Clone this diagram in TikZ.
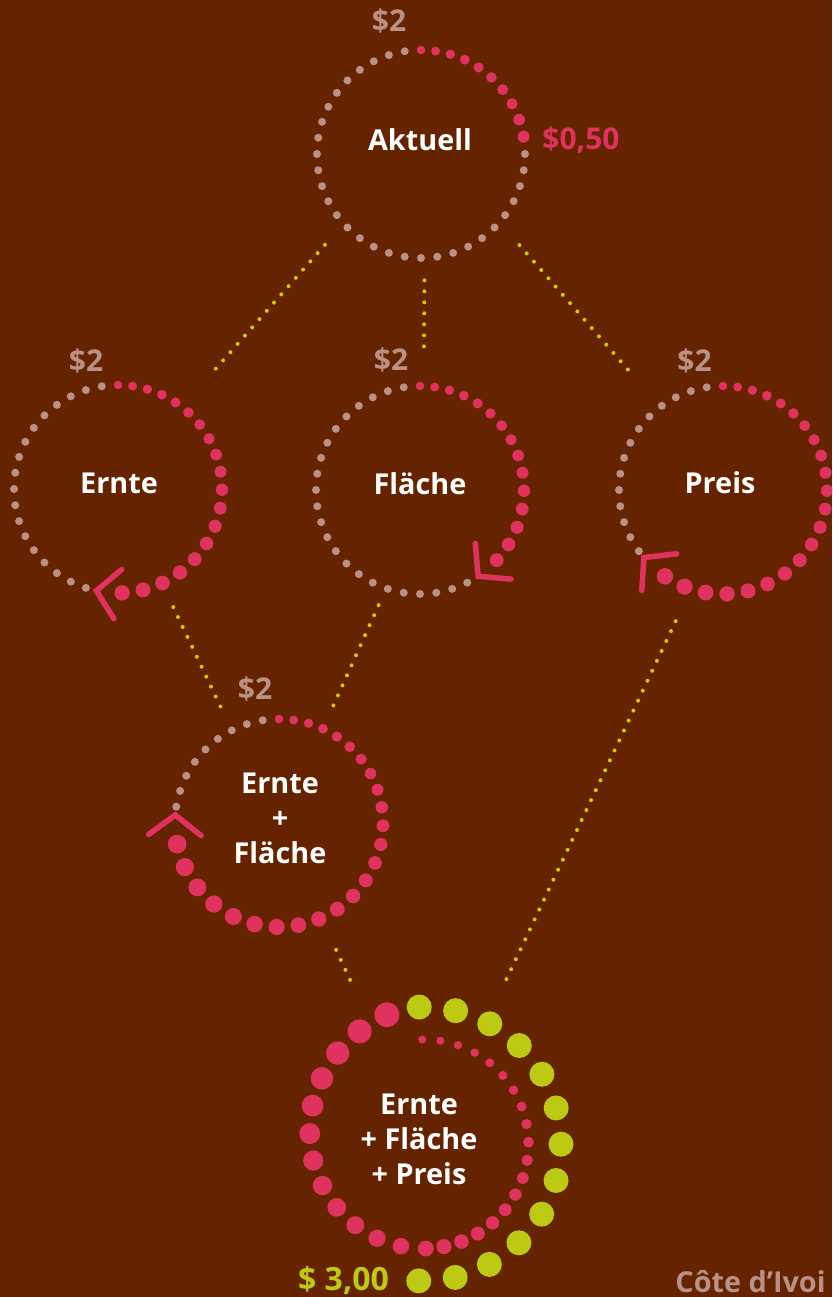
\documentclass[tikz,border=0pt]{standalone}
\usepackage{fontspec}
\setmainfont{Open Sans}
\definecolor{bgbrown}{RGB}{102,35,0}
\definecolor{dotpink}{RGB}{224,50,95}
\definecolor{dotgrey}{RGB}{185,145,134}
\definecolor{dotgreen}{RGB}{188,202,20}
\definecolor{linkyellow}{RGB}{204,204,0}

% #1 ring, #2 last grey index, #3 last pink index, #4 growth of the pink dots
\newcommand{\dotring}[4]{%
  \foreach \k in {0,...,#2}
    \fill[greydot] (#1.center) ++(99+9*\k:104) circle (4);
  \foreach \i in {0,...,#3}{
    \pgfmathsetmacro{\dang}{90-0.548*(14.6*\i+#4*\i*\i)}
    \pgfmathsetmacro{\drad}{4.3+#4*\i}
    \fill[pinkdot] (#1.center) ++(\dang:104) circle (\drad);
  }}
% #1 ring, #2 angle of the tip, #3 and #4 directions of the arms
\newcommand{\chevron}[4]{%
  \path (#1.center) ++(#2:104) coordinate (#1-tip);
  \draw[chev] (#1-tip) ++(#3:33) -- (#1-tip) -- ++(#4:33);}

\begin{document}
\begin{tikzpicture}[
  x=0.5pt, y=0.5pt,
  ring/.style = {circle, minimum size=104pt, inner sep=0pt},
  lbl/.style = {
    font=\bfseries\fontsize{14.4}{17.5}\selectfont,
    text=white, align=center, inner sep=0pt
  },
  price/.style = {
    font=\bfseries\fontsize{15}{18}\selectfont,
    text=dotgrey, anchor=base, inner sep=0pt
  },
  greydot/.style = {fill=dotgrey},
  pinkdot/.style = {fill=dotpink},
  greendot/.style = {fill=dotgreen},
  chev/.style = {draw=dotpink, line width=2.75pt, line cap=round, line join=miter},
  link/.style = {draw=linkyellow, line width=2pt, line cap=round,
    dash pattern=on 0pt off 5.5pt}
]
\useasboundingbox (0,0) rectangle (832,1297);
\clip (0,0) rectangle (832,1297);
\fill[bgbrown] (0,0) rectangle (832,1297);

%--- RINGE ---
\node[ring] (akt) at (421,1143) {};
\node[ring] (ern) at (118,808) {};
\node[ring] (fla) at (420,807) {};
\node[ring] (pre) at (723,807) {};
\node[ring] (ef)  at (279,474) {};
\node[ring, minimum size=137pt] (all) at (424,153) {};

%--- VERBINDUNGEN ---
\draw[link, shorten <=14pt, shorten >=24.5pt] (akt.-138) -- (ern.52);
\draw[link, shorten <=11pt, shorten >=19pt]   (akt.-88)  -- (fla.88);
\draw[link, shorten <=15pt, shorten >=24pt]   (akt.-41)  -- (pre.127);
\draw[link, shorten <=13pt, shorten >=13pt]   (ern.-65)  -- (ef.117);
\draw[link, shorten <=9pt,  shorten >=12pt]   (fla.-109) -- (ef.65);
\draw[link, shorten <=17.4pt, shorten >=16pt] (ef.-66)   -- (all.114);
\draw[link, shorten <=17.6pt, shorten >=18pt] (pre.-108) -- (all.63);

%--- PUNKTE ---
\dotring{akt}{29}{9}{0.19}
\dotring{ern}{17}{18}{0.19}
\dotring{fla}{22}{14}{0.19}
\dotring{pre}{13}{21}{0.19}
\dotring{ef}{8}{24}{0.21}
\foreach \i in {0,...,30}{
  \pgfmathsetmacro{\dgrow}{max(\i-18,0)/12}
  \pgfmathsetmacro{\dang}{91-10*min(\i,18)-13.75*max(\i-18,0)}
  \pgfmathsetmacro{\dr}{104.5+30*\dgrow*\dgrow}
  \pgfmathsetmacro{\drad}{4+8.5*(\i/30)*sqrt(\i/30)}
  \fill[pinkdot] (all.center) ++(\dang:\dr) circle (\drad);
}
\foreach \j in {0,...,12}
  \fill[greendot] (all.center) ++(92-15.35*\j:137) circle (12.5);

%--- PFEILE ---
\chevron{ern}{-102}{40}{-58}
\chevron{fla}{-56}{95}{-5}
\chevron{pre}{-139.5}{6.5}{-93.7}
\chevron{ef}{175.6}{216}{-38.6}

%--- TEXTE ---
\node[lbl, anchor=base] (akt-l) at (420,1146) {Aktuell};
\node[lbl, anchor=base] (ern-l) at (119,803) {Ernte};
\node[lbl, anchor=base] (fla-l) at (420,802) {Fläche};
\node[lbl, anchor=base] (pre-l) at (720,803) {Preis};
\node[lbl] (ef-l)  at (280,479) {Ernte\\+\\Fläche};
\node[lbl] (all-l) at (419,157.5) {Ernte\\+ Fläche\\+ Preis};

\node[price] (akt-p) at (389,1265) {\$2};
\node[price, text=dotpink] (akt-d) at (581,1147) {\$0,50};
\node[price] (ern-p) at (86,925) {\$2};
\node[price] (fla-p) at (391,926) {\$2};
\node[price] (pre-p) at (694.5,925) {\$2};
\node[price] (ef-p)  at (255,597) {\$2};
\node[price, text=dotgreen, font=\bfseries\fontsize{16}{19}\selectfont] (all-p) at (343.5,6) {\$ 3,00};
\node[price, anchor=base west, font=\bfseries\fontsize{14.4}{17}\selectfont] (land) at (675,4) {Côte d’Ivoi};
\end{tikzpicture}
\end{document}
